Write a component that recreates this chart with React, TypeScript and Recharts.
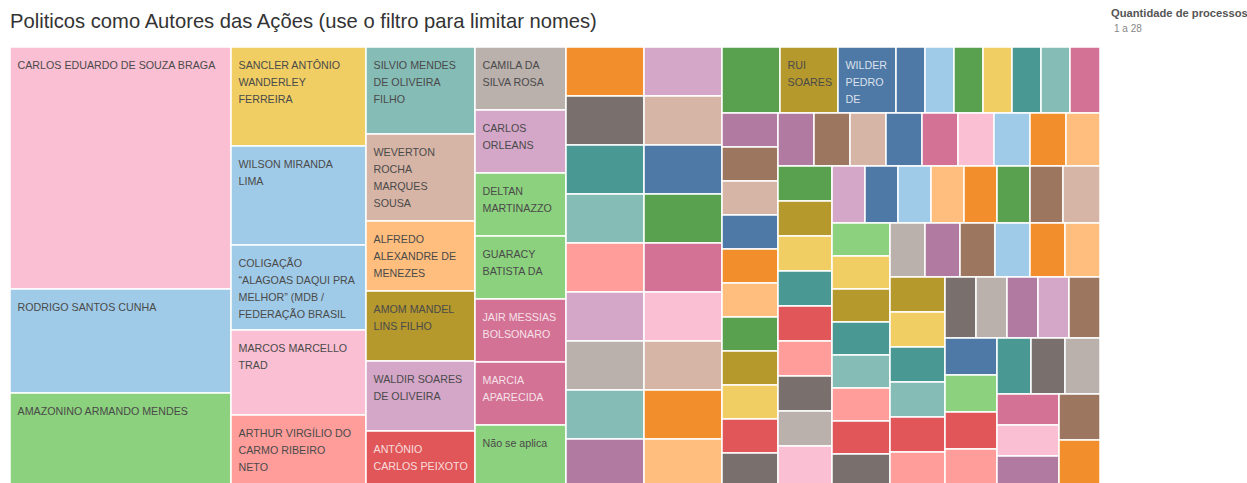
import { Treemap } from 'recharts'

// autores na ordem do treemap (maior para menor); '' = célula sem rótulo visível
const autores = [
  'CARLOS EDUARDO DE SOUZA BRAGA', 'RODRIGO SANTOS CUNHA', 'AMAZONINO ARMANDO MENDES',
  'SANCLER ANTÔNIO WANDERLEY FERREIRA', 'WILSON MIRANDA LIMA',
  'COLIGAÇÃO “ALAGOAS DAQUI PRA MELHOR” (MDB / FEDERAÇÃO BRASIL', 'MARCOS MARCELLO TRAD',
  'ARTHUR VIRGÍLIO DO CARMO RIBEIRO NETO', 'SILVIO MENDES DE OLIVEIRA FILHO',
  'WEVERTON ROCHA MARQUES SOUSA', 'ALFREDO ALEXANDRE DE MENEZES', 'AMOM MANDEL LINS FILHO',
  'WALDIR SOARES DE OLIVEIRA', 'ANTÔNIO CARLOS PEIXOTO', 'CAMILA DA SILVA ROSA',
  'CARLOS ORLEANS', 'DELTAN MARTINAZZO', 'GUARACY BATISTA DA', 'JAIR MESSIAS BOLSONARO',
  'MARCIA APARECIDA', 'Não se aplica',
  '', '', '', '', '', '', '', '', '',
  '', '', '', '', '', '', '', '', '',
  '', 'RUI SOARES', 'WILDER PEDRO DE', '', '', '', '', '', '', '',
  '', '', '', '', '', '', '', '', '', '', '',
  '', '', '', '', '', '', '', '', '',
  '', '', '', '', '', '', '', '', '',
  '', '', '', '', '', '', '', '',
  '', '', '', '', '', '', '', '',
  '', '', '', '', '', '',
  '', '', '', '', '', '',
  '', '', '', '', '',
  '', '', '', '',
  '', '', '',
  '', '', '',
  '', '',
]

const processos = [
  28, 12, 11,
  7, 7, 6, 6, 5,
  5, 5, 4, 4, 4, 3,
  3, 3, 3, 3, 3, 3, 3,
  2, 2, 2, 2, 2, 2, 2, 2, 2,
  2, 2, 2, 2, 2, 2, 2, 2, 2,
  2, 2, 2, 1, 1, 1, 1, 1, 1, 1,
  1, 1, 1, 1, 1, 1, 1, 1, 1, 1, 1,
  1, 1, 1, 1, 1, 1, 1, 1, 1,
  1, 1, 1, 1, 1, 1, 1, 1, 1,
  1, 1, 1, 1, 1, 1, 1, 1,
  1, 1, 1, 1, 1, 1, 1, 1,
  1, 1, 1, 1, 1, 1,
  1, 1, 1, 1, 1, 1,
  1, 1, 1, 1, 1,
  1, 1, 1, 1,
  1, 1, 1,
  1, 1, 1,
  1, 1,
]

const cores = [
  '#FABFD2', '#A0CBE8', '#8CD17D',
  '#F1CE63', '#A0CBE8', '#A0CBE8', '#FABFD2', '#FF9D9A',
  '#86BCB6', '#D7B5A6', '#FFBE7D', '#B6992D', '#D4A6C8', '#E15759',
  '#BAB0AC', '#D4A6C8', '#8CD17D', '#8CD17D', '#D37295', '#D37295', '#8CD17D',
  '#F28E2B', '#79706E', '#499894', '#86BCB6', '#FF9D9A', '#D4A6C8', '#BAB0AC', '#86BCB6', '#B07AA1',
  '#D4A6C8', '#D7B5A6', '#4E79A7', '#59A14F', '#D37295', '#FABFD2', '#D7B5A6', '#F28E2B', '#FFBE7D',
  '#59A14F', '#B6992D', '#4E79A7', '#4E79A7', '#A0CBE8', '#59A14F', '#F1CE63', '#499894', '#86BCB6', '#D37295',
  '#B07AA1', '#9D7660', '#D7B5A6', '#4E79A7', '#F28E2B', '#FFBE7D', '#59A14F', '#B6992D', '#F1CE63', '#E15759', '#79706E',
  '#B07AA1', '#9D7660', '#D7B5A6', '#4E79A7', '#D37295', '#FABFD2', '#A0CBE8', '#F28E2B', '#FFBE7D',
  '#59A14F', '#B6992D', '#F1CE63', '#499894', '#E15759', '#FF9D9A', '#79706E', '#BAB0AC', '#FABFD2',
  '#D4A6C8', '#4E79A7', '#A0CBE8', '#FFBE7D', '#F28E2B', '#59A14F', '#9D7660', '#D7B5A6',
  '#8CD17D', '#F1CE63', '#B6992D', '#499894', '#86BCB6', '#FF9D9A', '#E15759', '#79706E',
  '#BAB0AC', '#B07AA1', '#9D7660', '#A0CBE8', '#F28E2B', '#FFBE7D',
  '#B6992D', '#F1CE63', '#499894', '#86BCB6', '#E15759', '#FF9D9A',
  '#79706E', '#BAB0AC', '#B07AA1', '#D4A6C8', '#9D7660',
  '#4E79A7', '#8CD17D', '#E15759', '#FF9D9A',
  '#499894', '#79706E', '#BAB0AC',
  '#D37295', '#FABFD2', '#B07AA1',
  '#9D7660', '#F28E2B',
]

// rótulos como aparecem quebrados (e cortados) nas células
const rotulos: Record<string, string[]> = {
  'CARLOS EDUARDO DE SOUZA BRAGA': ['CARLOS EDUARDO DE SOUZA BRAGA'],
  'RODRIGO SANTOS CUNHA': ['RODRIGO SANTOS CUNHA'],
  'AMAZONINO ARMANDO MENDES': ['AMAZONINO ARMANDO MENDES'],
  'SANCLER ANTÔNIO WANDERLEY FERREIRA': ['SANCLER ANTÔNIO', 'WANDERLEY', 'FERREIRA'],
  'WILSON MIRANDA LIMA': ['WILSON MIRANDA', 'LIMA'],
  'COLIGAÇÃO “ALAGOAS DAQUI PRA MELHOR” (MDB / FEDERAÇÃO BRASIL': ['COLIGAÇÃO', '“ALAGOAS DAQUI PRA', 'MELHOR” (MDB /', 'FEDERAÇÃO BRASIL'],
  'MARCOS MARCELLO TRAD': ['MARCOS MARCELLO', 'TRAD'],
  'ARTHUR VIRGÍLIO DO CARMO RIBEIRO NETO': ['ARTHUR VIRGÍLIO DO', 'CARMO RIBEIRO', 'NETO'],
  'SILVIO MENDES DE OLIVEIRA FILHO': ['SILVIO MENDES', 'DE OLIVEIRA', 'FILHO'],
  'WEVERTON ROCHA MARQUES SOUSA': ['WEVERTON', 'ROCHA', 'MARQUES', 'SOUSA'],
  'ALFREDO ALEXANDRE DE MENEZES': ['ALFREDO', 'ALEXANDRE DE', 'MENEZES'],
  'AMOM MANDEL LINS FILHO': ['AMOM MANDEL', 'LINS FILHO'],
  'WALDIR SOARES DE OLIVEIRA': ['WALDIR SOARES', 'DE OLIVEIRA'],
  'ANTÔNIO CARLOS PEIXOTO': ['ANTÔNIO', 'CARLOS PEIXOTO'],
  'CAMILA DA SILVA ROSA': ['CAMILA DA', 'SILVA ROSA'],
  'CARLOS ORLEANS': ['CARLOS', 'ORLEANS'],
  'DELTAN MARTINAZZO': ['DELTAN', 'MARTINAZZO'],
  'GUARACY BATISTA DA': ['GUARACY', 'BATISTA DA'],
  'JAIR MESSIAS BOLSONARO': ['JAIR MESSIAS', 'BOLSONARO'],
  'MARCIA APARECIDA': ['MARCIA', 'APARECIDA'],
  'Não se aplica': ['Não se aplica'],
  'RUI SOARES': ['RUI', 'SOARES'],
  'WILDER PEDRO DE': ['WILDER', 'PEDRO', 'DE'],
}

const dados = processos.map((v, i) => ({ name: autores[i], size: v, cor: cores[i] }))

const FUNDOS_ESCUROS = ['#D37295', '#E15759', '#4E79A7']
const FONTE = '"Liberation Sans", Arial, sans-serif'

function Celula(props: any) {
  const { x, y, width, height, depth, name, cor } = props
  if (depth !== 1) return <g />
  const linhas = rotulos[name] || []
  const claro = FUNDOS_ESCUROS.includes(cor)
  return (
    <g>
      <rect x={x} y={y} width={width} height={height} fill={cor} stroke="#fff" strokeWidth={1.5} />
      {linhas.map((l, i) => (
        <text
          key={i}
          x={x + 7.5}
          y={y + 21.5 + i * 17.2}
          fontSize={10.7}
          fontFamily={FONTE}
          fill={claro ? 'rgba(255,255,255,0.8)' : '#4a4a4a'}
        >
          {l}
        </text>
      ))}
    </g>
  )
}

export default function App() {
  return (
    <div style={{ position: 'fixed', left: 0, top: 0, width: 1247, height: 483, overflow: 'hidden', background: '#fff', fontFamily: FONTE }}>
      <div style={{ position: 'absolute', left: 10, top: 10, fontSize: 20.2, color: '#333', whiteSpace: 'nowrap' }}>
        Politicos como Autores das Ações (use o filtro para limitar nomes)
      </div>
      <div style={{ position: 'absolute', left: 1111, top: 7, fontSize: 11.2, fontWeight: 'bold', color: '#555', whiteSpace: 'nowrap' }}>
        Quantidade de processos
      </div>
      <div style={{ position: 'absolute', left: 1114, top: 23, fontSize: 10, color: '#888', whiteSpace: 'nowrap' }}>
        1 a 28
      </div>
      <div style={{ position: 'absolute', left: 10, top: 47 }}>
        <Treemap
          width={1090}
          height={439}
          data={dados}
          dataKey="size"
          nameKey="name"
          content={<Celula />}
          isAnimationActive={false}
        />
      </div>
    </div>
  )
}
